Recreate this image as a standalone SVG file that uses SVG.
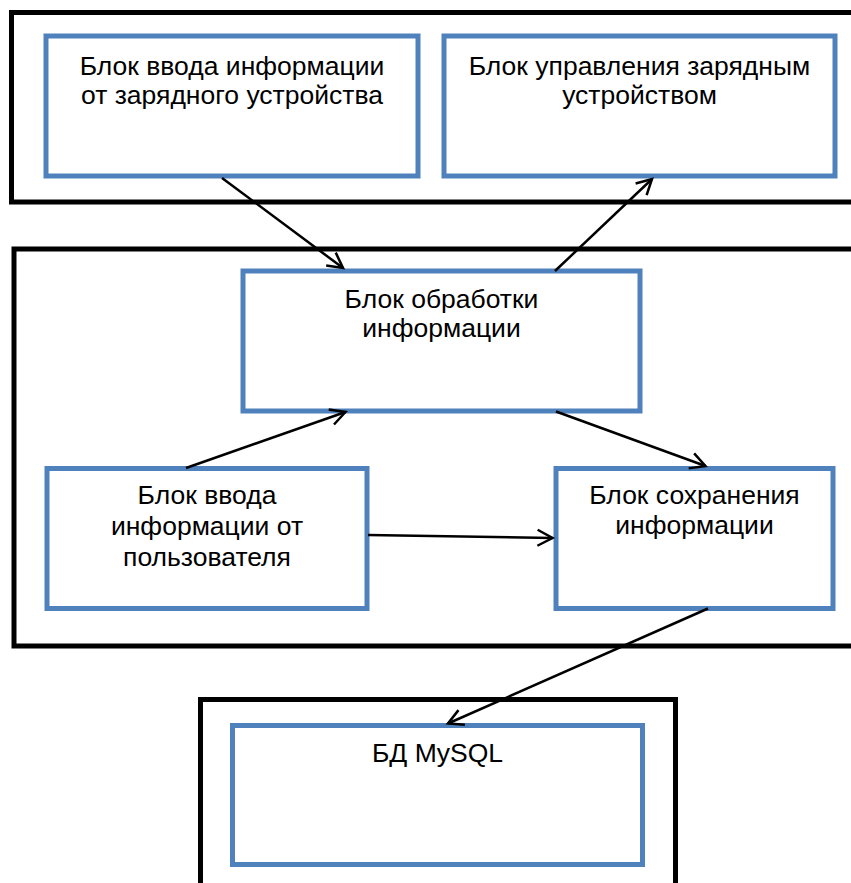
<svg xmlns="http://www.w3.org/2000/svg" width="851" height="883" viewBox="0 0 851 883">
<style>
.frame{fill:none;stroke:#000;stroke-width:5}
.box{fill:#fff;stroke:#4F81BD;stroke-width:5}
.lbl{font-family:"Liberation Sans",Arial,sans-serif;font-size:26.5px;fill:#000;text-anchor:middle}
.con{fill:none;stroke:#000;stroke-width:2.5;marker-end:url(#arr)}
</style>
<defs>
<marker id="arr" markerUnits="userSpaceOnUse" markerWidth="24" markerHeight="24" viewBox="-20 -12 24 24" refX="0" refY="0" orient="auto" overflow="visible">
<path d="M-15,-8 L0,0 L-15,8" fill="none" stroke="#000" stroke-width="2.5"/>
</marker>
</defs>
<rect id="bg" x="0" y="0" width="851" height="883" fill="#fff"/>
<g id="frames">
<rect id="frame-top" class="frame" x="11.5" y="12.5" width="860" height="189.5"/>
<rect id="frame-mid" class="frame" x="14" y="249" width="860" height="397"/>
<rect id="frame-db" class="frame" x="200.5" y="699.5" width="475" height="220"/>
</g>
<g id="n1">
<rect class="box" x="46" y="36" width="372" height="140"/>
<text class="lbl" x="232" y="75">Блок ввода информации</text>
<text class="lbl" x="232" y="103.5">от зарядного устройства</text>
</g>
<g id="n2">
<rect class="box" x="444" y="36" width="391" height="140"/>
<text class="lbl" x="639.5" y="75">Блок управления зарядным</text>
<text class="lbl" x="639.5" y="103.5">устройством</text>
</g>
<g id="n3">
<rect class="box" x="243" y="271" width="397" height="140"/>
<text class="lbl" x="441.5" y="307.5">Блок обработки</text>
<text class="lbl" x="441.5" y="336.5">информации</text>
</g>
<g id="n4">
<rect class="box" x="47" y="468.5" width="320" height="140"/>
<text class="lbl" x="207" y="504">Блок ввода</text>
<text class="lbl" x="207" y="535">информации от</text>
<text class="lbl" x="207" y="565.5">пользователя</text>
</g>
<g id="n5">
<rect class="box" x="556" y="468.5" width="277" height="140"/>
<text class="lbl" x="694.5" y="504">Блок сохранения</text>
<text class="lbl" x="694.5" y="534">информации</text>
</g>
<g id="n6">
<rect class="box" x="232.5" y="725.5" width="410" height="139"/>
<text class="lbl" x="437.5" y="762">БД MySQL</text>
</g>
<g id="connectors">
<line class="con" x1="222" y1="178" x2="343" y2="268"/>
<line class="con" x1="555" y1="271" x2="652" y2="179"/>
<line class="con" x1="186" y1="468" x2="345.5" y2="412"/>
<line class="con" x1="556" y1="411.5" x2="705.5" y2="466"/>
<line class="con" x1="368" y1="535" x2="552.5" y2="538"/>
<line class="con" x1="708" y1="608.5" x2="448" y2="723.5"/>
</g>
</svg>
